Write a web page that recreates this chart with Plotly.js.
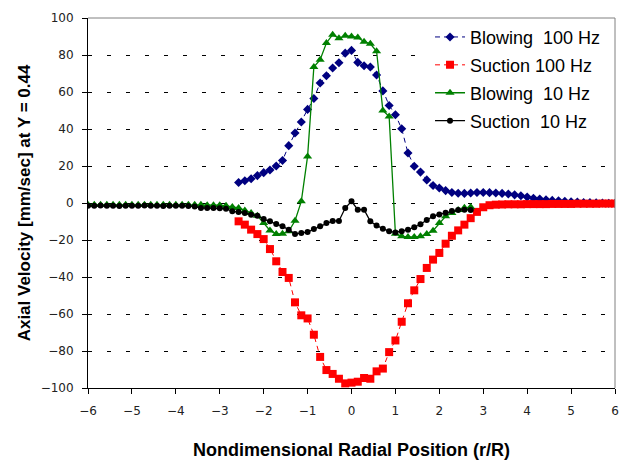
<!DOCTYPE html>
<html>
<head>
<meta charset="utf-8">
<script src="https://cdn.plot.ly/plotly-3.0.1.min.js"></script>
<style>html,body{margin:0;padding:0;background:#fff;}#chart{width:627px;height:460px;}</style>
</head>
<body>
<div id="chart"></div>
<script>
// r/R positions (steps of 1/7)
var xRight = [-2.571,-2.429,-2.286,-2.143,-2,-1.857,-1.714,-1.571,-1.429,-1.286,-1.143,-1,-0.857,-0.714,-0.571,-0.429,-0.286,-0.143,0,
  0.143,0.286,0.429,0.571,0.714,0.857,1,1.143,1.286,1.429,1.571,1.714,1.857,2,2.143,2.286,2.429,2.571,2.714,2.857,3,
  3.143,3.286,3.429,3.571,3.714,3.857,4,4.143,4.286,4.429,4.571,4.714,4.857,5,5.143,5.286,5.429,5.571,5.714,5.857,6];
var xLeft = [-6,-5.857,-5.714,-5.571,-5.429,-5.286,-5.143,-5,-4.857,-4.714,-4.571,-4.429,-4.286,-4.143,-4,-3.857,-3.714,-3.571,-3.429,-3.286,-3.143,-3,-2.857,-2.714,
  -2.571,-2.429,-2.286,-2.143,-2,-1.857,-1.714,-1.571,-1.429,-1.286,-1.143,-1,-0.857,-0.714,-0.571,-0.429,-0.286,-0.143,0,
  0.143,0.286,0.429,0.571,0.714,0.857,1,1.143,1.286,1.429,1.571,1.714,1.857,2,2.143,2.286,2.429,2.571,2.714];

var blowing100 = [11.1,12.0,13.1,14.8,16.4,17.8,20.0,23.0,31.0,37.8,43.8,50.6,56.5,64.9,68.8,73.0,75.8,81.0,82.5,
  76.0,74.2,73.5,69.2,60.6,52.7,47.7,40.1,27.0,19.9,16.7,12.5,9.5,8.1,6.7,5.7,5.3,5.2,5.4,5.7,5.7,
  5.6,5.4,5.2,4.9,4.4,3.9,3.2,2.6,2.1,1.7,1.4,1.2,0.9,0.7,0.5,0.3,0.2,0.1,0.0,-0.1,-0.2];
var suction100 = [-9.9,-11.7,-14.4,-16.8,-19.5,-24.9,-31.5,-37.3,-40.5,-53.7,-60.7,-62.4,-71.2,-83.2,-90.3,-92.4,-95.0,-97.5,-97.1,
  -96.6,-94.6,-95.0,-91.0,-89.5,-80.6,-74.3,-64.2,-54.2,-47.2,-41.1,-35.1,-30.6,-27.0,-22.0,-17.7,-14.8,-11.7,-8.2,-4.8,-2.3,
  -1.2,-0.9,-0.8,-0.7,-0.7,-0.7,-0.6,-0.6,-0.6,-0.6,-0.5,-0.5,-0.5,-0.5,-0.4,-0.4,-0.4,-0.4,-0.3,-0.3,-0.3];
var blowing10 = [-0.9,-0.9,-0.9,-0.9,-0.9,-0.9,-0.9,-0.9,-0.9,-0.9,-0.9,-0.9,-0.9,-1.0,-1.0,-1.0,-1.0,-1.0,-1.0,-1.2,-1.2,-1.2,-1.5,-2.2,
  -2.7,-4.0,-5.4,-6.9,-10.8,-14.8,-16.8,-16.6,-15.3,-9.6,0.9,25.2,73.5,77.5,86.5,91.0,89.0,90.4,90.0,
  89.5,87.2,86.1,82.0,50.0,46.8,-16.6,-18.0,-18.4,-18.4,-18.0,-16.8,-15.0,-10.8,-7.2,-5.4,-3.8,-2.6,-2.2];
var suction10 = [-1.5,-1.5,-1.4,-1.5,-1.5,-1.6,-1.5,-1.5,-1.5,-1.4,-1.5,-1.5,-1.6,-1.5,-1.5,-1.5,-1.6,-1.9,-2.7,-2.7,-2.7,-2.8,-3.1,-4.5,
  -4.9,-5.4,-6.3,-6.9,-8.7,-9.9,-11.4,-12.6,-14.4,-16.8,-16.2,-15.7,-14.1,-12.6,-10.8,-9.7,-9.7,-2.7,0.9,
  -3.6,-3.6,-9.9,-12.2,-13.9,-15.3,-15.9,-15.3,-14.4,-13.1,-11.5,-9.2,-7.2,-6.2,-5.3,-4.3,-3.8,-3.6,-3.8];

var seriesNames = ['Blowing\u00a0 100 Hz', 'Suction 100 Hz', 'Blowing\u00a0 10 Hz', 'Suction\u00a0 10 Hz'];

var traces = [
  {x: xRight, y: blowing100, name: seriesNames[0], legendgroup: 'a', mode: 'lines+markers', type: 'scatter',
   line: {color: '#000080', width: 1, dash: '5px,4px'}, marker: {symbol: 'diamond', size: 7, color: '#000080'}},
  {x: xRight, y: suction100, name: seriesNames[1], legendgroup: 'b', mode: 'lines+markers', type: 'scatter',
   line: {color: '#ff0000', width: 1, dash: '5px,4px'}, marker: {symbol: 'square', size: 8, color: '#ff0000'}},
  {x: xLeft, y: blowing10, name: seriesNames[2], legendgroup: 'c', mode: 'lines+markers', type: 'scatter',
   line: {color: '#008000', width: 1.3}, marker: {symbol: 'triangle-up', size: 8, color: '#008000'}},
  {x: xLeft, y: suction10, name: seriesNames[3], legendgroup: 'd', mode: 'lines+markers', type: 'scatter',
   line: {color: '#000000', width: 1.3}, marker: {symbol: 'circle', size: 6, color: '#000000'}}
];

var layout = {
  width: 627, height: 460,
  margin: {l: 88, r: 12, t: 18, b: 72},
  paper_bgcolor: '#ffffff', plot_bgcolor: '#ffffff',
  font: {family: 'Liberation Sans, Arial, sans-serif', color: '#000'},
  showlegend: true,
  legend: {x: 0.649, y: 0.998, xanchor: 'left', yanchor: 'top', bgcolor: '#ffffff',
           font: {size: 18, color: '#000'}, tracegroupgap: 1.5, itemwidth: 30},
  xaxis: {range: [-6, 6], dtick: 1, tick0: -6, showgrid: false, zeroline: false,
          showline: true, linecolor: '#000', linewidth: 1, ticks: 'outside', ticklen: 5, tickcolor: '#000',
          tickfont: {family: 'DejaVu Sans, Verdana, sans-serif', size: 12, color: '#222'}, ticklabelstandoff: 7,
          title: {text: 'Nondimensional Radial Position (r/R)', font: {size: 18, weight: 'bold'}, standoff: 26}},
  yaxis: {range: [-100, 100], dtick: 20, tick0: -100, showgrid: true, gridcolor: '#000', gridwidth: 1,
          griddash: '4px,15px', zeroline: false,
          showline: true, linecolor: '#000', linewidth: 1, ticks: 'outside', ticklen: 5, tickcolor: '#000',
          tickfont: {family: 'DejaVu Sans, Verdana, sans-serif', size: 12, color: '#222'}, ticklabelstandoff: 6,
          title: {text: 'Axial Velocity [mm/sec] at Y = 0.44', font: {size: 17, weight: 'bold'}, standoff: 5}},
  shapes: [
    {type: 'line', xref: 'paper', yref: 'paper', x0: 0, x1: 1, y0: 1, y1: 1, line: {color: '#808080', width: 1}},
    {type: 'line', xref: 'paper', yref: 'paper', x0: 1, x1: 1, y0: 0, y1: 1, line: {color: '#808080', width: 1}}
  ]
};

Plotly.newPlot('chart', traces, layout, {displayModeBar: false, staticPlot: true});
</script>
</body>
</html>
